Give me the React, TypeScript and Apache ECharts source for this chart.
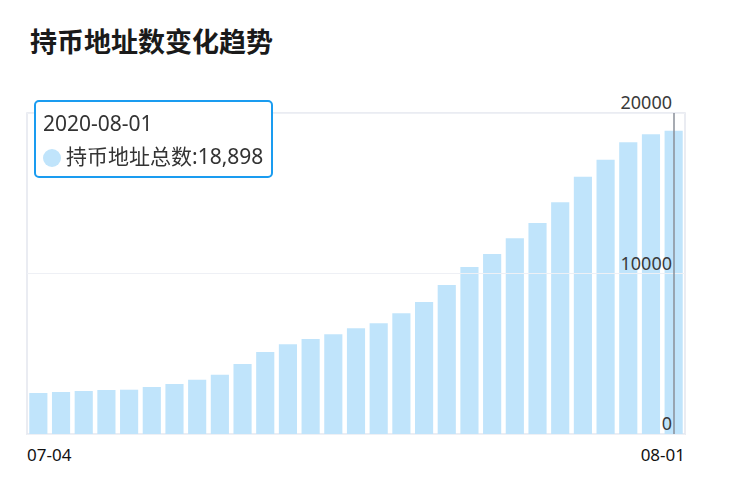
import * as echarts from 'echarts';
import { useEffect, useRef } from 'react';

// 日期与持币地址总数
const dates = [
  '2020-07-04', '2020-07-05', '2020-07-06', '2020-07-07', '2020-07-08', '2020-07-09',
  '2020-07-10', '2020-07-11', '2020-07-12', '2020-07-13', '2020-07-14', '2020-07-15',
  '2020-07-16', '2020-07-17', '2020-07-18', '2020-07-19', '2020-07-20', '2020-07-21',
  '2020-07-22', '2020-07-23', '2020-07-24', '2020-07-25', '2020-07-26', '2020-07-27',
  '2020-07-28', '2020-07-29', '2020-07-30', '2020-07-31', '2020-08-01',
];
const holders = [
  2555, 2617, 2679, 2741, 2760, 2928, 3115, 3385, 3697, 4361, 5109, 5587,
  5919, 6210, 6584, 6897, 7520, 8224, 9283, 10405, 11215, 12191, 13146, 14434,
  16033, 17092, 18172, 18671, 18898,
];
const yTicks = [0, 10000, 20000];

const seriesName = '持币地址总数';
const barColor = '#c0e4fb';
const font = '"Noto Sans", "Noto Sans CJK SC", sans-serif';

export default function App() {
  const ref = useRef<HTMLDivElement>(null);

  useEffect(() => {
    document.body.style.margin = '0';
    if (!ref.current) return;
    const chart = echarts.init(ref.current, null, { renderer: 'svg' });
    const last = dates.length - 1;

    chart.setOption({
      animation: false,
      textStyle: { fontFamily: font },
      title: {
        text: '持币地址数变化趋势',
        left: 25,
        top: 23,
        textStyle: { fontSize: 27, fontWeight: 'bold', color: '#1a1a1a', fontFamily: font },
      },
      grid: {
        left: 27,
        right: 47,
        top: 113,
        bottom: 44,
        show: true,
        borderColor: '#e3e6ee',
        borderWidth: 1.5,
      },
      tooltip: {
        trigger: 'axis',
        alwaysShowContent: true,
        position: [34, 100],
        backgroundColor: '#fff',
        borderColor: '#1a9cf0',
        borderWidth: 2,
        padding: [5, 8, 3, 7],
        extraCssText: 'box-shadow:none;border-radius:5px;',
        axisPointer: {
          type: 'line',
          z: 10,
          lineStyle: { color: '#8a8f99', width: 1.5, type: 'solid' },
        },
        formatter: (params: any) => {
          const p = Array.isArray(params) ? params[0] : params;
          const v = Number(p.value).toLocaleString('en-US');
          return (
            `<div style="font-size:21px;line-height:33px;color:#333;font-family:${font.replace(/"/g, "'")}">` +
            `<div>${dates[p.dataIndex]}</div>` +
            `<div><span style="display:inline-block;width:18px;height:18px;border-radius:50%;background:${barColor};vertical-align:-3px;margin-right:5px"></span>` +
            `${p.seriesName}:${v}</div></div>`
          );
        },
      },
      xAxis: [
        {
          type: 'category',
          data: dates,
          boundaryGap: true,
          axisLine: { lineStyle: { color: '#e3e6ee' } },
          axisTick: { show: false },
          axisLabel: { show: false },
        },
        {
          type: 'category',
          data: dates,
          position: 'bottom',
          boundaryGap: false,
          axisLine: { show: false },
          axisTick: { show: false },
          axisPointer: { show: false },
          axisLabel: {
            interval: (i: number) => i === 0 || i === last,
            formatter: (d: string) => d.slice(5),
            alignMinLabel: 'left',
            alignMaxLabel: 'right',
            fontSize: 17,
            color: '#111',
            margin: 12,
          },
        },
      ],
      yAxis: {
        type: 'value',
        position: 'right',
        z: 5,
        min: yTicks[0],
        max: yTicks[yTicks.length - 1],
        interval: yTicks[1] - yTicks[0],
        axisLine: { show: false },
        axisTick: { show: false },
        splitLine: { lineStyle: { color: '#eef0f5' } },
        axisLabel: {
          inside: true,
          verticalAlign: 'bottom',
          padding: [0, 0, 2, 0],
          margin: 13,
          fontSize: 18,
          color: '#3a3a3a',
          formatter: (v: number) => String(v),
        },
      },
      series: [
        {
          name: seriesName,
          type: 'bar',
          xAxisIndex: 0,
          data: holders,
          barCategoryGap: '20%',
          itemStyle: { color: barColor },
          emphasis: { disabled: true },
        },
      ],
    });

    chart.dispatchAction({ type: 'showTip', seriesIndex: 0, dataIndex: last });

    return () => chart.dispose();
  }, []);

  return <div ref={ref} style={{ width: 732, height: 478 }} />;
}
